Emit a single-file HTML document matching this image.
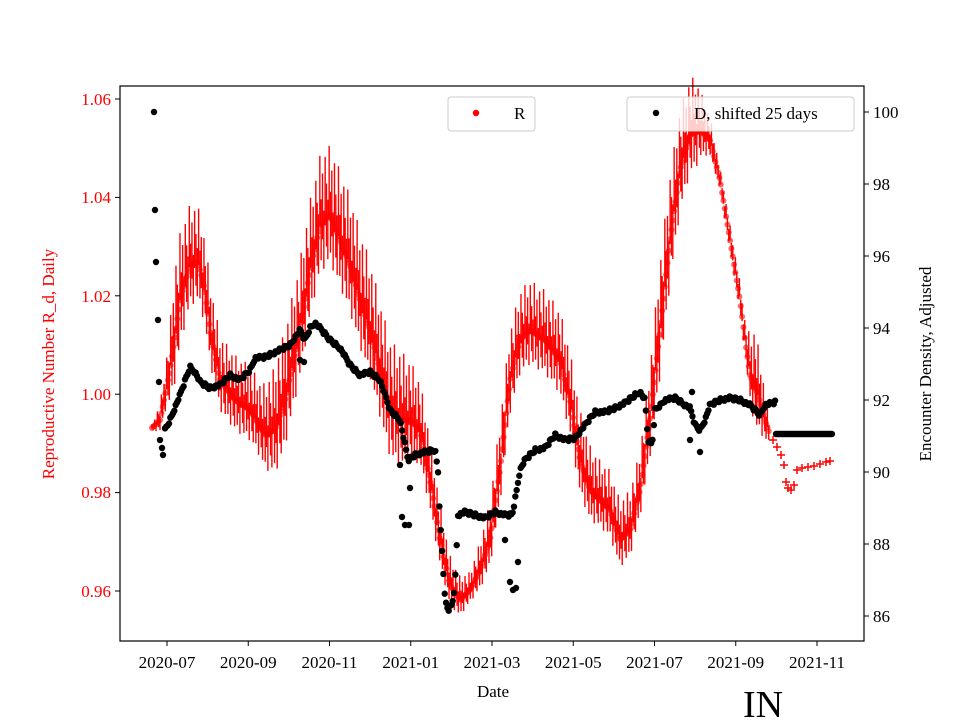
<!DOCTYPE html>
<html><head><meta charset="utf-8"><style>
body{margin:0;background:#fff}
svg text{font-family:"Liberation Serif",serif}
</style></head><body>
<svg id="s" width="960" height="720" xmlns="http://www.w3.org/2000/svg">
<rect width="960" height="720" fill="#fff"/>
<g id="rl"></g><g id="rd"></g><g id="dd"></g>
<rect x="120" y="86" width="744" height="555" fill="none" stroke="#000" stroke-width="1.2"/>
<g font-size="17" fill="red" text-anchor="end">
<line x1="115" y1="591" x2="120" y2="591" stroke="#000"/><text x="111" y="597">0.96</text>
<line x1="115" y1="492.6" x2="120" y2="492.6" stroke="#000"/><text x="111" y="498">0.98</text>
<line x1="115" y1="394.2" x2="120" y2="394.2" stroke="#000"/><text x="111" y="400">1.00</text>
<line x1="115" y1="295.8" x2="120" y2="295.8" stroke="#000"/><text x="111" y="302">1.02</text>
<line x1="115" y1="197.4" x2="120" y2="197.4" stroke="#000"/><text x="111" y="203">1.04</text>
<line x1="115" y1="99" x2="120" y2="99" stroke="#000"/><text x="111" y="105">1.06</text>
</g>
<g font-size="17" fill="#000" id="ry"></g>
<g font-size="17" fill="#000" text-anchor="middle" id="xt"></g>
<text x="493" y="697" font-size="17" text-anchor="middle">Date</text>
<text transform="translate(54,364) rotate(-90)" font-size="17" fill="red" text-anchor="middle">Reproductive Number R_d, Daily</text>
<text transform="translate(931,364) rotate(-90)" font-size="17" text-anchor="middle">Encounter Density, Adjusted</text>
<text x="763" y="717" font-size="38" text-anchor="middle">IN</text>
<rect x="448" y="97" width="87" height="34" rx="3" fill="#fff" fill-opacity="0.8" stroke="#ccc"/>
<circle cx="476" cy="113" r="3.2" fill="red"/><text x="514" y="119" font-size="17">R</text>
<rect x="627" y="97" width="227" height="34" rx="3" fill="#fff" fill-opacity="0.8" stroke="#ccc"/>
<circle cx="656" cy="113" r="3.2" fill="#000"/><text x="694" y="119" font-size="17">D, shifted 25 days</text>
</svg>
<script>
const NS="http://www.w3.org/2000/svg";
function el(g,t,a){const e=document.createElementNS(NS,t);for(const k in a)e.setAttribute(k,a[k]);document.getElementById(g).appendChild(e);return e;}
function interp(p,x){if(x<=p[0][0])return p[0][1];for(let i=1;i<p.length;i++){if(x<=p[i][0]){const a=p[i-1],b=p[i];return a[1]+(b[1]-a[1])*(x-a[0])/(b[0]-a[0]);}}return p[p.length-1][1];}
[86,88,90,92,94,96,98,100].forEach(v=>{const y=112+(100-v)*36;el("ry","line",{x1:864,y1:y,x2:869,y2:y,stroke:"#000"});const t=el("ry","text",{x:873,y:y+6});t.textContent=v;});
["2020-07","2020-09","2020-11","2021-01","2021-03","2021-05","2021-07","2021-09","2021-11"].forEach((s,i)=>{const x=167+i*81.25;el("xt","line",{x1:x,y1:641,x2:x,y2:646,stroke:"#000"});const t=el("xt","text",{x:x,y:668});t.textContent=s;});
const C=[[152,428],[160,420],[170,370],[180,300],[190,265],[198,262],[205,290],[210,330],[220,380],[235,400],[250,410],[265,435],[275,430],[285,400],[300,330],[310,270],[320,225],[330,215],[340,240],[350,265],[360,300],[370,330],[380,370],[390,410],[400,420],[410,420],[420,430],[430,480],[440,540],[450,585],[460,600],[470,590],[480,570],[490,540],[500,470],[510,380],[520,340],[530,330],[545,340],[560,360],[570,400],[580,460],[590,490],[600,500],[610,510],[620,540],[630,530],[640,490],[650,420],[660,330],[670,240],[680,170],[690,135],[700,130],[710,140],[720,180],[730,240],[740,300],[745,340],[750,375],[758,395],[765,420],[770,435]];
const A=[[152,4],[165,25],[175,70],[200,55],[220,45],[260,45],[280,70],[400,70],[420,50],[450,30],[470,18],[500,50],[580,50],[600,40],[640,40],[660,70],[695,55],[705,30],[720,12],[745,20],[755,60],[765,30],[770,12]];
for(let x=152,d=0;x<=770;x+=1.332,d++){const c=interp(C,x),a=interp(A,x);const ph=d%7;const f=[1,0.35,0.7,0.15,0.9,0.5,0.25][ph];
el("rl","line",{x1:x,y1:c-a*f,x2:x,y2:c+a*(1-f)*0.8,stroke:"red","stroke-width":1.4});
el("rd","circle",{cx:x,cy:c,r:3,fill:"red","fill-opacity":0.6});}
const P=[[773,440],[777,447],[781,455],[784,465],[786,482],[788,488],[791,490],[794,485],[797,470],[802,468],[808,467],[814,466],[820,464],[826,462],[830,461]];
P.forEach(p=>{el("rd","path",{d:`M${p[0]-4},${p[1]}h8M${p[0]},${p[1]-4}v8`,stroke:"red","stroke-width":1.5});});
const D=[[165,430],[170,420],[180,395],[190,367],[195,372],[200,382],[210,388],[220,385],[230,375],[240,380],[250,370],[255,358],[265,357],[280,350],[290,345],[300,330],[305,340],[310,328],[315,323],[320,328],[330,340],[340,348],[350,365],[360,375],[370,372],[380,380],[385,395],[390,410],[400,420],[408,460],[415,455],[425,452],[435,450],[438,470],[440,520],[442,550],[445,600],[448,610],[452,605],[455,585],[458,515],[465,512],[475,515],[485,518],[495,512],[505,515],[512,515],[515,500],[520,470],[525,460],[535,450],[545,448],[555,435],[565,440],[575,438],[585,425],[595,412],[605,412],[615,408],[625,403],[635,395],[640,392],[645,400],[648,440],[652,445],[655,410],[665,400],[675,398],[685,405],[690,408],[695,425],[700,430],[705,420],[710,405],[720,400],[730,398],[740,400],[750,405],[760,415],[765,405],[776,402]];
for(let x=165;x<=776;x+=1.332)el("dd","circle",{cx:x,cy:interp(D,x)+((Math.round(x)%5)-2)*0.8,r:3.2,fill:"#000"});
[[154,112],[155,210],[156,262],[158,320],[159,382],[160,440],[162,448],[163,455],[400,465],[402,517],[405,525],[409,525],[410,488],[300,360],[304,362],[505,540],[510,582],[513,590],[516,588],[518,562],[692,392],[700,452],[690,440]].forEach(p=>el("dd","circle",{cx:p[0],cy:p[1],r:3.2,fill:"#000"}));
for(let x=776;x<=832;x+=1.332)el("dd","circle",{cx:x,cy:434,r:3.2,fill:"#000"});
</script>
</body></html>
